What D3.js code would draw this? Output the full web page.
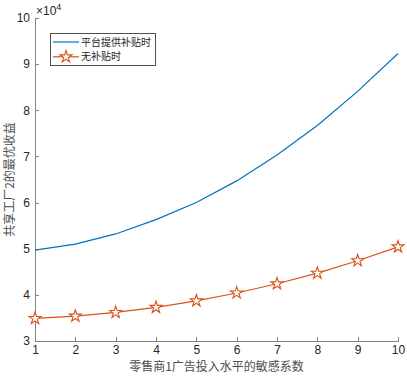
<!DOCTYPE html>
<html lang="zh">
<head>
<meta charset="UTF-8">
<title>共享工厂2的最优收益</title>
<script src="https://cdn.jsdelivr.net/npm/d3@7"></script>
<style>
    body { margin: 0; background: #fff; }
    .axis path, .axis line { stroke: #848484; fill: none; shape-rendering: crispEdges; }
    .axis text { font-family: "Liberation Sans", Arial, sans-serif; font-size: 12px; fill: #262626; }
    .cjk { font-family: "Noto Sans CJK SC", sans-serif; }
</style>
</head>
<body>
<script>
    const xValues = [1, 2, 3, 4, 5, 6, 7, 8, 9, 10];
    const subsidyValues = [4.97, 5.10, 5.32, 5.63, 6.00, 6.47, 7.03, 7.67, 8.41, 9.23];
    const noSubsidyValues = [3.49, 3.54, 3.62, 3.73, 3.87, 4.04, 4.24, 4.47, 4.74, 5.04];
    const xTicks = [1, 2, 3, 4, 5, 6, 7, 8, 9, 10];
    const yTicks = [3, 4, 5, 6, 7, 8, 9, 10];
    const seriesNames = ['平台提供补贴时', '无补贴时'];

    const svg_w = 407, svg_h = 376;
    const pad_left = 35, pad_right = 398, pad_top = 18, pad_bottom = 341;

    const svg = d3.select('body').append('svg').attr('width', svg_w).attr('height', svg_h);

    const x_scale = d3.scaleLinear([1, 10], [pad_left, pad_right]);
    const y_scale = d3.scaleLinear([3, 10], [pad_bottom, pad_top]);

    // axes: ticks point inward like matlab
    svg.append('g').attr('class', 'axis')
        .attr('transform', `translate(0, ${pad_bottom})`)
        .call(d3.axisBottom(x_scale).tickValues(xTicks).tickFormat(d3.format('d'))
            .tickSizeInner(-4).tickSizeOuter(0).tickPadding(4));
    svg.append('g').attr('class', 'axis')
        .attr('transform', `translate(${pad_left}, 0)`)
        .call(d3.axisLeft(y_scale).tickValues(yTicks).tickFormat(d3.format('d'))
            .tickSizeInner(-4).tickSizeOuter(0).tickPadding(5));

    // x10^4 multiplier
    const mult = svg.append('text').attr('x', 36).attr('y', 15)
        .style('font-family', '"Liberation Sans", Arial, sans-serif').style('font-size', '12px').attr('fill', '#262626');
    mult.append('tspan').text('×10');
    mult.append('tspan').attr('dy', -5).style('font-size', '9px').text('4');

    const line = d3.line().x((d, i) => x_scale(xValues[i])).y(d => y_scale(d));

    svg.append('path').datum(subsidyValues)
        .attr('d', line).attr('fill', 'none').attr('stroke', '#0072BD').attr('stroke-width', 1.2);

    svg.append('path').datum(noSubsidyValues)
        .attr('d', line).attr('fill', 'none').attr('stroke', '#D95319').attr('stroke-width', 1.2);

    const star = d3.symbol().type(d3.symbolStar).size(45);

    svg.selectAll('.star').data(noSubsidyValues).enter()
        .append('path').attr('class', 'star')
        .attr('d', star)
        .attr('transform', (d, i) => `translate(${x_scale(xValues[i])}, ${y_scale(d)})`)
        .attr('fill', '#fff').attr('stroke', '#D95319').attr('stroke-width', 1.1);

    // legend
    const lg = svg.append('g');
    lg.append('rect').attr('x', 50.5).attr('y', 33.5).attr('width', 105).attr('height', 32)
        .attr('fill', '#fff').attr('stroke', '#262626').attr('stroke-width', 0.8);
    const colors = ['#0072BD', '#D95319'];
    seriesNames.forEach((name, i) => {
        const ly = 42 + i * 14.8;
        lg.append('line').attr('x1', 53).attr('x2', 79).attr('y1', ly).attr('y2', ly)
            .attr('stroke', colors[i]).attr('stroke-width', 1.2);
        if (i == 1) {
            lg.append('path').attr('d', star).attr('transform', `translate(66, ${ly})`)
                .attr('fill', '#fff').attr('stroke', colors[i]).attr('stroke-width', 1.1);
        }
        lg.append('text').attr('class', 'cjk').attr('x', 81).attr('y', ly + 3.5)
            .style('font-size', '10px').attr('fill', '#262626').text(name);
    });

    // axis titles
    svg.append('text').attr('class', 'cjk')
        .attr('x', (pad_left + pad_right) / 2).attr('y', 371)
        .attr('text-anchor', 'middle').style('font-size', '12px').attr('fill', '#4d4d4d')
        .text('零售商1广告投入水平的敏感系数');
    svg.append('text').attr('class', 'cjk')
        .attr('transform', `translate(14, ${(pad_top + pad_bottom) / 2}) rotate(-90)`)
        .attr('text-anchor', 'middle').style('font-size', '12px').attr('fill', '#4d4d4d')
        .text('共享工厂2的最优收益');
</script>
</body>
</html>
